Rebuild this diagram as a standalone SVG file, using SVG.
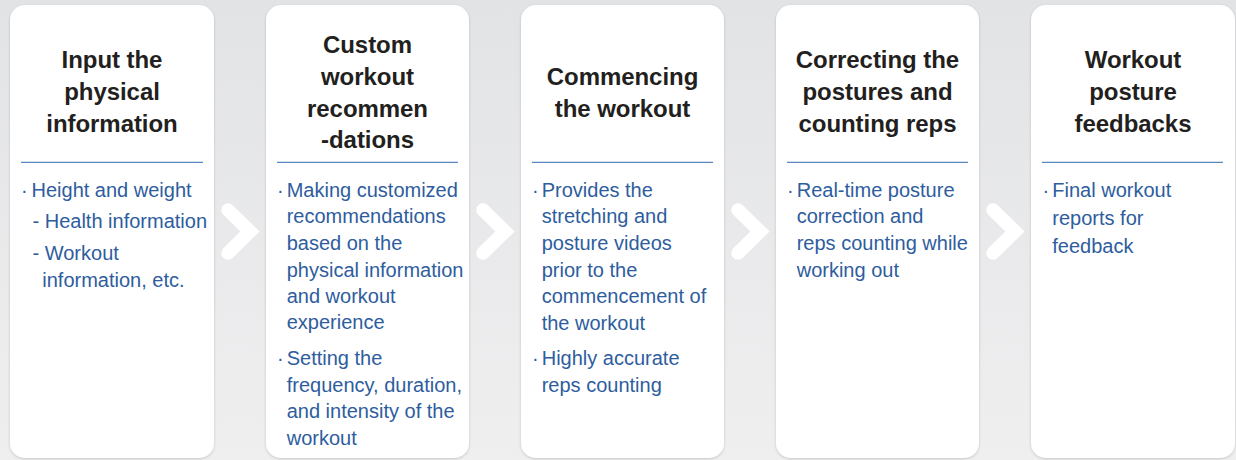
<svg xmlns="http://www.w3.org/2000/svg" width="1236" height="460" viewBox="0 0 1236 460">
<defs>
<linearGradient id="bg" x1="0" y1="0" x2="0" y2="1">
<stop offset="0" stop-color="#e2e3e5"/>
<stop offset="1" stop-color="#efeff0"/>
</linearGradient>
<filter id="sh" x="-10%" y="-10%" width="120%" height="120%">
<feGaussianBlur in="SourceAlpha" stdDeviation="1.5"/>
<feOffset dx="0" dy="0.5" result="b"/>
<feComponentTransfer><feFuncA type="linear" slope="0.18"/></feComponentTransfer>
<feMerge><feMergeNode/><feMergeNode in="SourceGraphic"/></feMerge>
</filter>
</defs>
<style>
.card{fill:#ffffff;filter:url(#sh)}
.title{font-family:"Liberation Sans",Arial,sans-serif;font-weight:bold;font-size:24px;letter-spacing:-0.05px;fill:#231f20;text-anchor:middle}
.body{font-family:"Liberation Sans",Arial,sans-serif;font-size:20px;fill:#2e5d9e}
.div{stroke:#5a86bf;stroke-width:1.3}
.chev{fill:none;stroke:#ffffff;stroke-width:13.5;stroke-linecap:round;stroke-linejoin:miter}
</style>
<rect x="0" y="0" width="1236" height="460" fill="url(#bg)"/>

<g id="connectors">
<polyline class="chev" points="228,210 250,231.5 228,253"/>
<polyline class="chev" points="483,210 505,231.5 483,253"/>
<polyline class="chev" points="738,210 760,231.5 738,253"/>
<polyline class="chev" points="993,210 1015,231.5 993,253"/>
</g>

<g id="node1">
<rect class="card" x="10" y="5" width="204" height="453" rx="15"/>
<text class="title"><tspan x="112" y="68.3">Input the</tspan><tspan x="112" y="100">physical</tspan><tspan x="112" y="132.3">information</tspan></text>
<line class="div" x1="21" y1="162.3" x2="203" y2="162.3"/>
<text class="body"><tspan x="21" y="196.7">·</tspan><tspan x="31.5" y="196.7">Height and weight</tspan><tspan x="32.5" y="228.3">- Health information</tspan><tspan x="32.5" y="260">- Workout</tspan><tspan x="42.3" y="287.3">information, etc.</tspan></text>
</g>

<g id="node2">
<rect class="card" x="266" y="5" width="203" height="453" rx="15"/>
<text class="title"><tspan x="367.5" y="53.3">Custom</tspan><tspan x="367.5" y="85">workout</tspan><tspan x="367.5" y="116.7">recommen</tspan><tspan x="367.5" y="148.3">-dations</tspan></text>
<line class="div" x1="277" y1="162.3" x2="458" y2="162.3"/>
<text class="body"><tspan x="277" y="196.7">·</tspan><tspan x="286.7" y="196.7">Making customized</tspan><tspan x="286.7" y="223.3">recommendations</tspan><tspan x="286.7" y="250">based on the</tspan><tspan x="286.7" y="277.3">physical information</tspan><tspan x="286.7" y="303.3">and workout</tspan><tspan x="286.7" y="329.3">experience</tspan><tspan x="277" y="365">·</tspan><tspan x="286.7" y="365">Setting the</tspan><tspan x="286.7" y="391.7">frequency, duration,</tspan><tspan x="286.7" y="418.3">and intensity of the</tspan><tspan x="286.7" y="445">workout</tspan></text>
</g>

<g id="node3">
<rect class="card" x="521" y="5" width="203" height="453" rx="15"/>
<text class="title"><tspan x="622.5" y="85">Commencing</tspan><tspan x="622.5" y="116.7">the workout</tspan></text>
<line class="div" x1="532" y1="162.3" x2="713" y2="162.3"/>
<text class="body"><tspan x="532" y="196.7">·</tspan><tspan x="541.7" y="196.7">Provides the</tspan><tspan x="541.7" y="223.3">stretching and</tspan><tspan x="541.7" y="250">posture videos</tspan><tspan x="541.7" y="276.7">prior to the</tspan><tspan x="541.7" y="303.3">commencement of</tspan><tspan x="541.7" y="330">the workout</tspan><tspan x="532" y="365">·</tspan><tspan x="541.7" y="365">Highly accurate</tspan><tspan x="541.7" y="391.7">reps counting</tspan></text>
</g>

<g id="node4">
<rect class="card" x="776" y="5" width="203" height="453" rx="15"/>
<text class="title"><tspan x="877.5" y="68.3">Correcting the</tspan><tspan x="877.5" y="100">postures and</tspan><tspan x="877.5" y="131.7">counting reps</tspan></text>
<line class="div" x1="787" y1="162.3" x2="968" y2="162.3"/>
<text class="body"><tspan x="787" y="196.7">·</tspan><tspan x="796.7" y="196.7">Real-time posture</tspan><tspan x="796.7" y="223.3">correction and</tspan><tspan x="796.7" y="250">reps counting while</tspan><tspan x="796.7" y="276.7">working out</tspan></text>
</g>

<g id="node5">
<rect class="card" x="1031" y="5" width="204" height="453" rx="15"/>
<text class="title"><tspan x="1133" y="68.3">Workout</tspan><tspan x="1133" y="100">posture</tspan><tspan x="1133" y="132.3">feedbacks</tspan></text>
<line class="div" x1="1042" y1="162.3" x2="1223" y2="162.3"/>
<text class="body"><tspan x="1042.5" y="196.7">·</tspan><tspan x="1052.3" y="196.7">Final workout</tspan><tspan x="1052.3" y="224.5">reports for</tspan><tspan x="1052.3" y="253">feedback</tspan></text>
</g>
</svg>
